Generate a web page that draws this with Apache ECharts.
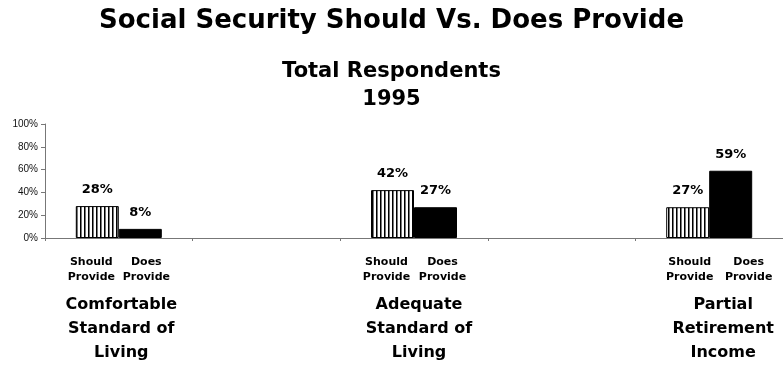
<!DOCTYPE html>
<html>
<head>
<meta charset="utf-8">
<script src="https://cdn.jsdelivr.net/npm/echarts@6/dist/echarts.min.js"></script>
<style>
  html, body { margin: 0; padding: 0; background: #fff; }
  #chart { width: 783px; height: 365px; }
</style>
</head>
<body>
<div id="chart"></div>
<script>
// Benefit groups; the blank slots keep the wide spacing between groups
const categories = ['Comfortable\nStandard of\nLiving', '', 'Adequate\nStandard of\nLiving', '', 'Partial\nRetirement\nIncome'];
const shouldProvide = [28, '-', 42, '-', 27];
const doesProvide = [8, '-', 27, '-', 59];
const yTicks = [0, 20, 40, 60, 80, 100];
const seriesNames = ['Should\nProvide', 'Does\nProvide'];

const BOLD_FONT = '"DejaVu Sans", Verdana, sans-serif';
const AXIS_FONT = '"Liberation Sans", Arial, sans-serif';

// Horizontal nudges (px) for the group names and the captions under the bars
const groupLabelPad = [5, 0, 10, 0, 28];
const shouldCaptionShift = [-6, 0, -6, 0, 2];
const doesCaptionShift = [6, 0, 7, 0, 18];

// Vertical hatch fill for the "Should Provide" bars
function hatchPattern() {
  const c = document.createElement('canvas');
  c.width = 4; c.height = 4;
  const g = c.getContext('2d');
  g.fillStyle = '#fff';
  g.fillRect(0, 0, 4, 4);
  g.fillStyle = '#000';
  g.fillRect(0, 0, 1, 4);
  g.fillStyle = '#777';
  g.fillRect(1, 0, 1, 4);
  return { image: c, repeat: 'repeat' };
}

// Zero-height helper bars that carry the captions under each bar
function captionData(shifts) {
  return shouldProvide.map((v, i) => (v === '-' ? '-' : { value: 0, label: { offset: [shifts[i], 0] } }));
}

const barCommon = {
  barWidth: 43,
  barGap: '0%',
  barCategoryGap: '42%'
};

const valueLabel = {
  show: true, position: 'top', distance: 10,
  formatter: p => p.value + '%',
  fontFamily: BOLD_FONT, fontSize: 13, fontWeight: 'bold', color: '#000'
};

const captionLabel = {
  show: true, position: 'bottom', distance: 17,
  fontFamily: BOLD_FONT, fontSize: 11, fontWeight: 'bold', color: '#000', lineHeight: 15
};

const chart = echarts.init(document.getElementById('chart'), null, { renderer: 'canvas' });

chart.setOption({
  animation: false,
  backgroundColor: '#fff',
  textStyle: { fontFamily: BOLD_FONT },
  title: [
    {
      text: 'Social Security Should Vs. Does Provide',
      left: 'center',
      top: 3,
      textStyle: { fontFamily: BOLD_FONT, fontSize: 26, fontWeight: 'bold', color: '#000' }
    },
    {
      text: 'Total Respondents\n1995',
      left: 'center',
      top: 53,
      textStyle: { fontFamily: BOLD_FONT, fontSize: 21, fontWeight: 'bold', color: '#000', lineHeight: 28 }
    }
  ],
  grid: { left: 45, right: -6, top: 124, bottom: 127, containLabel: false },
  xAxis: [
    {
      type: 'category',
      data: categories.map((c, i) => ({ value: c, textStyle: { padding: [0, 0, 0, groupLabelPad[i]] } })),
      axisLine: { lineStyle: { color: '#777', width: 1 } },
      axisTick: { show: true, length: 3, lineStyle: { color: '#777' } },
      axisLabel: {
        interval: 0,
        margin: 55,
        fontFamily: BOLD_FONT,
        fontSize: 16,
        fontWeight: 'bold',
        lineHeight: 24,
        color: '#000'
      }
    },
    {
      type: 'category',
      data: categories,
      show: false,
      gridIndex: 0
    }
  ],
  yAxis: {
    type: 'value',
    min: 0,
    max: 100,
    interval: 20,
    splitLine: { show: false },
    axisLine: { show: true, lineStyle: { color: '#777' } },
    axisTick: { show: true, length: 4, lineStyle: { color: '#777' } },
    axisLabel: {
      margin: 7,
      fontFamily: AXIS_FONT,
      fontSize: 10,
      color: '#111',
      formatter: v => (yTicks.includes(v) ? v + '%' : '')
    }
  },
  series: [
    Object.assign({
      name: 'Should Provide',
      type: 'bar',
      data: shouldProvide,
      itemStyle: { color: hatchPattern(), borderColor: '#000', borderWidth: 1 },
      label: valueLabel
    }, barCommon),
    Object.assign({
      name: 'Does Provide',
      type: 'bar',
      data: doesProvide,
      itemStyle: { color: '#000', borderColor: '#000', borderWidth: 1 },
      label: valueLabel
    }, barCommon),
    Object.assign({
      name: 'caption-should',
      type: 'bar',
      xAxisIndex: 1,
      data: captionData(shouldCaptionShift),
      itemStyle: { color: 'transparent' },
      label: Object.assign({ formatter: () => seriesNames[0] }, captionLabel)
    }, barCommon),
    Object.assign({
      name: 'caption-does',
      type: 'bar',
      xAxisIndex: 1,
      data: captionData(doesCaptionShift),
      itemStyle: { color: 'transparent' },
      label: Object.assign({ formatter: () => seriesNames[1] }, captionLabel)
    }, barCommon)
  ]
});
</script>
</body>
</html>
